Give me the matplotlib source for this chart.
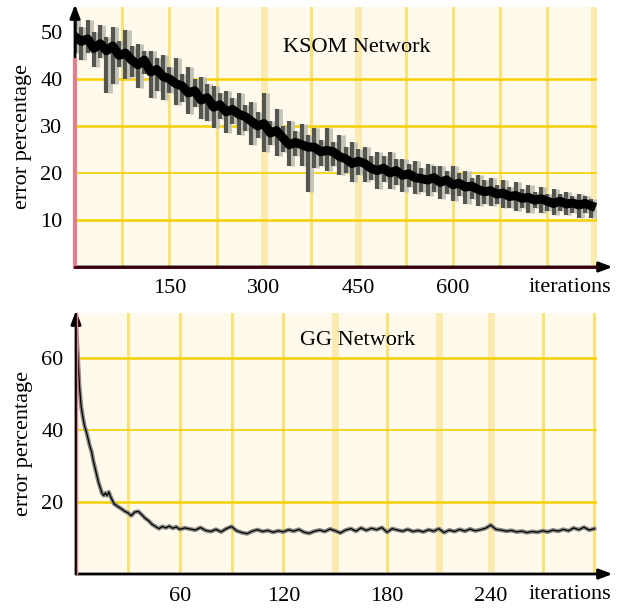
import numpy as np
import matplotlib
matplotlib.use("Agg")
import matplotlib.pyplot as plt

plt.rcParams['font.family'] = ['Liberation Serif', 'DejaVu Serif']

# KSOM network: error percentage sampled every 10 iterations (centre, upper spike, lower spike)
ksom_iter = np.arange(0, 821, 10)
ksom_err = [49, 48, 48.5, 46.5, 47.5, 46, 47, 45, 45.5, 44,
            43, 44, 41.5, 42, 40.5, 40, 39, 38.5, 37, 37.5,
            35.5, 36, 34, 34.5, 33, 33.5, 32.5, 32, 31, 30,
            30.5, 28.5, 29, 27.5, 26, 26.5, 26, 25.5, 25.5, 24.5,
            24.8, 24.5, 23.5, 23, 22, 22.5, 22, 21, 20.5, 21,
            20, 20.5, 19.5, 19.8, 19, 18.8, 18.5, 19, 18, 18.5,
            17.5, 17.8, 17, 17.2, 16.5, 16, 16.2, 15.5, 15.7, 15,
            15.2, 14.6, 14.8, 14.2, 14.5, 14, 13.5, 14, 13.4, 13.6,
            13.2, 13.5, 13]
ksom_hi = [53, 51, 52.5, 50, 51.5, 49, 51, 48, 50.5, 47,
           47.5, 46, 46, 44.5, 45, 42.5, 44.5, 41, 42.5, 40,
           40.5, 39, 38.5, 37, 37.5, 36, 37, 34.5, 35, 33,
           37, 31, 33.5, 30, 31, 29, 30.5, 28, 29.5, 27,
           29.5, 26.5, 28, 25.5, 26.5, 25, 25.5, 23.5, 24.5, 23.5,
           24.5, 23, 23, 22, 22.5, 21, 22, 21.5, 21.5, 20.5,
           21.5, 20, 20.5, 19, 19.5, 18.5, 19, 17.5, 18.5, 17,
           18, 16.5, 17.5, 16, 17, 15.5, 16.5, 15.5, 16, 15,
           15.5, 15, 14.5]
ksom_lo = [45.5, 44, 45.5, 42.5, 44.5, 37, 39, 42.5, 40, 40.5,
           38, 41, 36, 37.5, 35.5, 37, 34.5, 35, 32.5, 34,
           31.5, 31, 29.5, 31.5, 28.5, 30.5, 28, 29, 26, 27.5,
           24.5, 26, 23.5, 24.5, 21.5, 23.5, 21.5, 16, 21, 21.5,
           20.5, 21.5, 19.5, 20, 18, 19.5, 18, 18.5, 16.5, 18,
           16.5, 17.5, 16, 17, 15.5, 16, 15, 16, 14.5, 15.5,
           14, 15, 13.5, 14.5, 13, 13.5, 13, 13.5, 12.5, 12.5,
           12, 12.5, 11.5, 12.5, 11.5, 12, 11, 12, 11, 11.5,
           10.5, 11.5, 10.5]
ksom_ticks = [150, 300, 450, 600]
ksom_yticks = [10, 20, 30, 40, 50]

# GG network
gg_iter = np.concatenate([np.arange(0, 21, 1), np.arange(22, 61, 2), np.arange(63, 301, 3)])
gg_err = [70, 61, 52, 46.5, 43.5, 41, 39.5, 37.5, 35.5, 34, 31.5,
          29.5, 27.5, 25.5, 24, 22.5, 21.8, 22.5, 21.8, 22.8, 21.5,
          19.5, 18.8, 18.2, 17.5, 17, 16.2, 17.2, 17.4, 16.5, 15.5,
          14.8, 13.8, 13.2, 12.6, 13.2, 12.8, 13.3, 12.7, 13.1, 12.4,
          12.8, 12.5, 12.2, 12.9, 12.1, 11.8, 12.4, 11.7, 12.6, 13.2, 12.0, 11.5, 11.2,
          11.9, 12.3, 11.8, 12.1, 11.6, 12.0, 11.7, 12.3, 11.9, 12.4, 11.6, 11.3, 11.9,
          12.2, 11.8, 12.5, 12.0,
          11.4, 12.2, 12.6, 11.9, 12.8, 12.1, 12.7, 12.3, 12.9, 11.6, 12.6, 12.2, 11.9,
          12.4, 11.8, 12.1, 11.7,
          12.3, 11.9, 12.6, 11.5, 12.2, 11.8, 12.4, 11.9, 12.5, 12.0, 12.3, 12.7, 13.6,
          12.4, 12.2, 11.9, 12.1, 11.7, 11.9, 11.5, 11.8, 11.6, 12.0, 11.7, 12.2, 11.9,
          12.4, 12.0, 12.8, 12.3, 13.0, 12.2, 12.6]
gg_ticks = [60, 120, 180, 240]
gg_yticks = [20, 40, 60]

BG = '#fffaec'
HLINE = '#f5d000'
VLINE = '#fae27a'
VPALE = '#fcebb0'
FS = 16


def style_axes(ax, xmax, ymax, vgrid, pale, hgrid, thin_h):
    ax.set_facecolor(BG)
    ax.set_xlim(0, xmax)
    ax.set_ylim(0, ymax)
    for v in vgrid:
        if v in pale:
            ax.axvline(v, color=VPALE, lw=5, zorder=1)
        else:
            ax.axvline(v, color=VLINE, lw=2.2, zorder=1)
    for h in hgrid:
        ax.axhline(h, color=HLINE, lw=1.2 if h == thin_h else 1.8, zorder=1)
    for s in ['top', 'right', 'left', 'bottom']:
        ax.spines[s].set_visible(False)
    ax.tick_params(length=0, labelsize=FS, pad=9)
    ax.set_ylabel('error percentage', fontsize=FS, labelpad=6)
    # arrows for the axes
    ax.annotate('', xy=(1.03, 0), xytext=(0, 0), xycoords='axes fraction',
                arrowprops=dict(arrowstyle='-|>,head_length=0.8,head_width=0.3',
                                color='black', lw=2, shrinkA=0, shrinkB=0))
    ax.annotate('', xy=(0, 1.01), xytext=(0, 0), xycoords='axes fraction',
                arrowprops=dict(arrowstyle='-|>,head_length=0.8,head_width=0.3',
                                color='black', lw=2, shrinkA=0, shrinkB=0))
    ax.text(1.027, -0.08, 'iterations', transform=ax.transAxes, ha='right',
            va='center', fontsize=FS)


fig = plt.figure(figsize=(6.22, 6.08), dpi=100)

# top panel: KSOM
ax1 = fig.add_axes([0.1206, 0.5609, 0.8392, 0.4276])
style_axes(ax1, 829, 55.3, range(75, 826, 75), [300, 450, 825], [10, 20, 30, 40], 20)
ax1.vlines(ksom_iter + 5, ksom_lo, ksom_hi, color='#c4c4b8', lw=3.5, zorder=2)
ax1.vlines(ksom_iter, ksom_lo, ksom_hi, color='#55554f', lw=3, zorder=2)
ax1.plot(ksom_iter, ksom_err, color='black', lw=6.5, zorder=3)
ax1.plot([0, 0], [0, 44], color='#e0808f', lw=3, zorder=4, clip_on=False)
ax1.plot([0, 829], [0, 0], color='#3a0010', lw=2, zorder=4, clip_on=False)
ax1.set_xticks(ksom_ticks)
ax1.set_yticks(ksom_yticks)
ax1.text(0.54, 0.846, 'KSOM Network', transform=ax1.transAxes, ha='center',
         va='center', fontsize=FS)

# bottom panel: GG
ax2 = fig.add_axes([0.1222, 0.0559, 0.8376, 0.4293])
style_axes(ax2, 301.5, 72.5, range(30, 301, 30), [150, 210, 240], [20, 40, 60], 40)
ax2.plot(gg_iter, gg_err, color='#8a8a84', lw=3, zorder=2)
ax2.plot(gg_iter, gg_err, color='black', lw=0.9, zorder=3)
ax2.plot([0.8, 0.8], [0, 72.5], color='#e0808f', lw=1, zorder=4, clip_on=False)
ax2.set_xticks(gg_ticks)
ax2.set_yticks(gg_yticks)
ax2.text(0.54, 0.893, 'GG Network', transform=ax2.transAxes, ha='center',
         va='center', fontsize=FS)

fig.savefig('out.png', dpi=100)
